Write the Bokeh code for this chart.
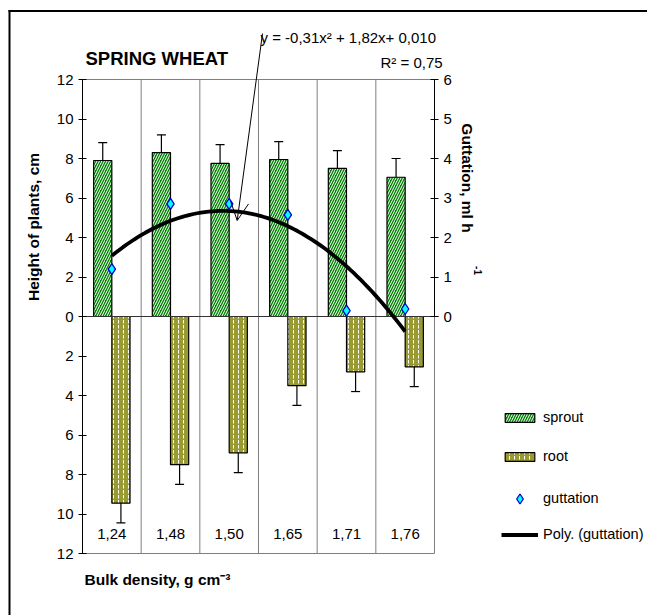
import numpy as np
from bokeh.plotting import figure
from bokeh.models import (ColumnDataSource, Range1d, LinearAxis, FixedTicker, Whisker, TeeHead,
                          Label, Arrow, OpenHead, Legend, LegendItem)
from bokeh.core.properties import value
from bokeh.embed import file_html
from bokeh.resources import INLINE

# ---------------- data ----------------
density_labels = ["1,24", "1,48", "1,50", "1,65", "1,71", "1,76"]
sprout = [7.9, 8.3, 7.75, 7.95, 7.5, 7.05]
sprout_err = [0.9, 0.9, 0.95, 0.9, 0.9, 0.95]
root = [9.45, 7.5, 6.9, 3.5, 2.8, 2.55]
root_err = [1.0, 1.0, 1.0, 1.0, 1.0, 1.0]
guttation = [1.2, 2.85, 2.85, 2.57, 0.15, 0.19]
height_ticks = [-12, -10, -8, -6, -4, -2, 0, 2, 4, 6, 8, 10, 12]
height_tick_labels = ["12", "10", "8", "6", "4", "2", "0", "2", "4", "6", "8", "10", "12"]
gutt_ticks = [0, 1, 2, 3, 4, 5, 6]

# ---------------- layout helpers ----------------
W, H = 647, 615          # the Bokeh page template has no body margin
PLOT_L, PLOT_R, PLOT_T, PLOT_B = 82, 434, 79, 553        # page px of the plot area
N = len(density_labels)
PPX = (PLOT_R - PLOT_L) / N                               # px per category
PPY = (PLOT_B - PLOT_T) / 24.0                            # px per cm


def dx(px):  # page px -> data x
    return 0.5 + (px - PLOT_L) / PPX


def dy(py):  # page px -> data y (left axis units)
    return 12 - (py - PLOT_T) / PPY


SANS = "Liberation Sans"

y_lo, y_hi = dy(H), dy(0)
p = figure(width=W, height=H, output_backend="svg", toolbar_location=None,
           x_range=Range1d(dx(0), dx(W)), y_range=Range1d(y_lo, y_hi),
           x_axis_location=None, y_axis_location=None,
           min_border_left=0, min_border_top=0, min_border_right=0, min_border_bottom=0)
p.outline_line_color = None
p.grid.visible = False
p.background_fill_color = "white"
p.border_fill_color = "white"
p.extra_y_ranges = {"gut": Range1d(y_lo / 2, y_hi / 2)}

# outer chart border (only its top and left edges fall inside the window)
p.segment(x0=[dx(9), dx(8)], y0=[dy(9.5), dy(10.5)], x1=[dx(9), dx(W)],
          y1=[dy(H), dy(10.5)], line_color="black", line_width=2)

# plot-area lines: category separators, top/bottom edges
sep = [0.5 + i for i in range(N + 1)]
p.segment(x0=sep, y0=[-12] * len(sep), x1=sep, y1=[12] * len(sep),
          line_color="#7f7f7f", line_width=1)
p.segment(x0=[0.5, 0.5], y0=[-12, 12], x1=[N + 0.5] * 2, y1=[-12, 12],
          line_color="#7f7f7f", line_width=1)

# left axis
la = LinearAxis(ticker=FixedTicker(ticks=height_ticks), fixed_location=0.5, bounds=(-12, 12),
                major_label_overrides={t: l for t, l in zip(height_ticks, height_tick_labels)})
# right axis
ra = LinearAxis(y_range_name="gut", ticker=FixedTicker(ticks=gutt_ticks),
                fixed_location=N + 0.5, bounds=(0, 6))
for ax in (la, ra):
    ax.major_tick_in = 4
    ax.major_tick_out = 4
    ax.minor_tick_line_color = None
    ax.axis_line_color = "black"
    ax.major_tick_line_color = "black"
    ax.major_label_text_font = SANS
    ax.major_label_text_font_size = "15px"
    ax.major_label_text_color = "black"
    ax.major_label_standoff = 5
p.add_layout(la, "left")
p.add_layout(ra, "right")

# ---------------- bars ----------------
xs = np.arange(1, N + 1)
off = 0.155
bw = 0.31
src = ColumnDataSource(dict(
    xs=xs - off, xr=xs + off, x=xs,
    sprout=sprout, root=[-r for r in root],
    s_up=[s + e for s, e in zip(sprout, sprout_err)],
    s_lo=[s - e for s, e in zip(sprout, sprout_err)],
    r_up=[-(r - e) for r, e in zip(root, root_err)],
    r_lo=[-(r + e) for r, e in zip(root, root_err)],
    gut=guttation, lab=density_labels,
))

sb = p.vbar(x="xs", top="sprout", bottom=0, width=bw, source=src,
            fill_color="#008000", line_color="black", line_width=1.2,
            hatch_pattern="/", hatch_color="white", hatch_scale=5, hatch_weight=1.0)
rb = p.vbar(x="xr", top=0, bottom="root", width=bw, source=src,
            fill_color="#9a9a32", line_color="black", line_width=1.2,
            hatch_pattern=":", hatch_color="white", hatch_scale=5, hatch_weight=1)

for base, up, lo in (("xs", "s_up", "s_lo"), ("xr", "r_up", "r_lo")):
    w = Whisker(base=base, upper=up, lower=lo, source=src, dimension="height",
                line_color="black", line_width=1.2,
                upper_head=TeeHead(size=9, line_color="black", line_width=1.2),
                lower_head=TeeHead(size=9, line_color="black", line_width=1.2))
    p.add_layout(w)

# zero line
p.segment(x0=[0.5], y0=[0], x1=[N + 0.5 + 4 / PPX], y1=[0], line_color="#333333", line_width=1.2)

# trend (2nd order polynomial fitted to guttation)
coef = np.polyfit(xs, guttation, 2)
xt = np.linspace(xs[0], xs[-1], 80)
tr = p.line(xt, np.polyval(coef, xt), y_range_name="gut", line_color="black", line_width=3.8)

gs = p.scatter(x="x", y="gut", source=src, y_range_name="gut", marker="diamond", size=11,
               fill_color="#00ffff", line_color="#0000cc", line_width=1.3)

# category labels inside the plot
p.text(x="x", y=dy(533), text="lab", source=src, text_align="center",
       text_baseline="alphabetic", text_font=value(SANS), text_font_size="15px",
       text_color="black")


# ---------------- texts ----------------
def lab(text, px, py, size, bold=False, align="left", baseline="alphabetic", angle=0):
    p.add_layout(Label(x=dx(px), y=dy(py), text=text, text_font=SANS, text_font_size=size,
                       text_font_style="bold" if bold else "normal", text_align=align,
                       text_baseline=baseline, angle=angle, text_color="black"))


lab("SPRING WHEAT", 85, 57.5, "18.5px", bold=True)
lab("y = -0,31x\u00b2 + 1,82x+ 0,010", 260, 36.5, "15px")
lab("R\u00b2 = 0,75", 380, 62, "15px")
lab("Bulk density, g cm\u207b\u00b3", 84, 578.5, "15.5px", bold=True)
lab("Height of plants, cm", 33, 226.5, "15.5px", bold=True, align="center",
    baseline="middle", angle=np.pi / 2)
lab("Guttation, ml h", 467, 177.5, "15.5px", bold=True, align="center",
    baseline="middle", angle=-np.pi / 2)
lab("-1", 477, 270, "10px", bold=True, align="center", baseline="middle", angle=-np.pi / 2)

# arrow from equation to curve
p.add_layout(Arrow(x_start=dx(262), y_start=dy(33), x_end=dx(236.7), y_end=dy(220),
                   line_color="black", line_width=1,
                   end=OpenHead(size=18, line_color="black", line_width=1)))


# legend (three stacked blocks so the diamond can be drawn larger than the patches)
def make_legend(items, bottom_py, glyph_h, label_h, spacing=19):
    lg = Legend(items=items, location=(501, H - bottom_py), orientation="vertical")
    lg.glyph_width = 37
    lg.glyph_height = glyph_h
    lg.label_height = label_h
    lg.spacing = spacing
    lg.label_standoff = 5
    lg.padding = 0
    lg.margin = 0
    lg.border_line_color = None
    lg.background_fill_alpha = 0
    lg.label_text_font = SANS
    lg.label_text_font_size = "14.5px"
    lg.label_text_color = "black"
    p.add_layout(lg, "center")


make_legend([LegendItem(label="sprout", renderers=[sb]),
             LegendItem(label="root", renderers=[rb])], 466, 11, 20)
make_legend([LegendItem(label="guttation", renderers=[gs])], 510.5, 25, 25)
make_legend([LegendItem(label="Poly. (guttation)", renderers=[tr])], 544, 11, 20)

open("out.html", "w").write(file_html(p, INLINE))
